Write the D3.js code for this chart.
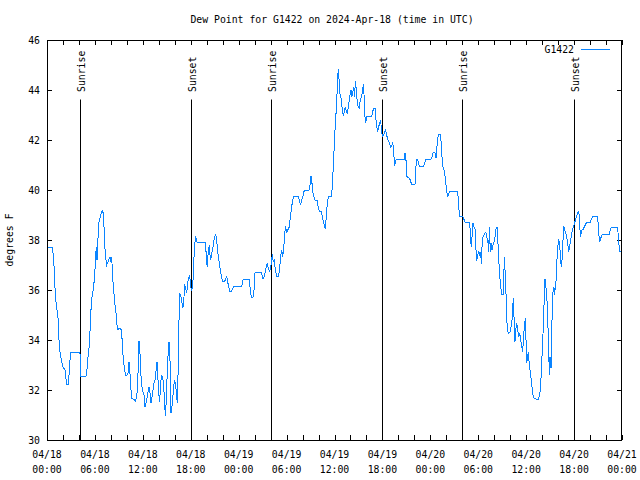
<!DOCTYPE html>
<html><head><meta charset="utf-8">
<script src="https://cdn.jsdelivr.net/npm/d3@7"></script>
<style>
body{margin:0;background:#fff}
svg text{font-family:"DejaVu Sans Mono","Liberation Mono",monospace;font-size:9.8px;fill:#000}
</style>
</head><body><svg id="c" width="640" height="480"></svg>
<script>
const chartTitle = "Dew Point for G1422 on 2024-Apr-18 (time in UTC)";
const seriesName = "G1422";
const yAxisLabel = "degrees F";
const yTickValues = [30, 32, 34, 36, 38, 40, 42, 44, 46];
const sunEventNames = ["Sunrise", "Sunset", "Sunrise", "Sunset", "Sunrise", "Sunset"];
const sunEventHours = [4.17, 18.07, 28.05, 41.95, 52.0, 66.03];
// [hours after 2024-04-18 00:00 UTC, dew point F]
const observations = [
[0.0,37.7],[0.67,37.7],[0.79,37.4],[0.92,36.77],[1.0,36.1],[1.13,35.5],[1.25,35.2],[1.38,34.87],[1.46,34.2],[1.59,33.6],
[1.71,33.37],[1.84,33.13],[2.0,32.93],[2.25,32.8],[2.38,32.43],[2.46,32.23],[2.67,32.23],[2.75,32.56],[2.88,33.2],[3.0,33.5],
[4.13,33.5],[4.22,32.53],[4.88,32.53],[5.0,32.8],[5.09,33.2],[5.22,33.5],[5.34,34.0],[5.47,35.0],[5.59,35.64],[5.72,35.87],
[5.84,36.13],[5.97,36.6],[6.09,37.33],[6.18,37.73],[6.26,37.2],[6.34,37.6],[6.43,38.53],[6.55,38.8],[6.68,38.93],[6.8,39.07],
[6.93,39.17],[7.05,39.07],[7.18,38.27],[7.3,37.4],[7.47,37.0],[7.6,37.1],[7.72,37.2],[7.89,37.33],[8.01,37.13],[8.1,37.33],
[8.22,36.53],[8.35,36.0],[8.47,35.53],[8.64,35.07],[8.76,34.6],[8.89,34.4],[9.02,34.47],[9.27,34.43],[9.39,34.07],[9.52,33.4],
[9.64,33.0],[9.77,32.73],[9.89,32.57],[10.06,32.6],[10.18,32.73],[10.27,33.13],[10.39,32.67],[10.52,32.0],[10.64,31.67],[10.81,31.64],
[10.94,31.6],[11.06,31.56],[11.19,31.67],[11.31,32.0],[11.44,33.0],[11.52,33.97],[11.64,33.5],[11.77,32.57],[11.9,32.1],[12.02,31.93],
[12.15,31.8],[12.27,31.33],[12.4,31.47],[12.52,31.67],[12.65,31.93],[12.77,32.13],[12.9,31.87],[13.02,31.47],[13.15,31.73],[13.27,32.0],
[13.4,32.27],[13.52,32.4],[13.66,32.8],[13.77,33.13],[13.86,32.67],[13.98,31.87],[14.11,31.53],[14.23,32.33],[14.36,32.57],[14.48,32.53],
[14.61,32.13],[14.69,31.73],[14.82,30.96],[14.94,31.6],[15.07,32.87],[15.19,33.6],[15.28,33.93],[15.4,33.2],[15.53,31.07],[15.61,31.2],
[15.73,31.6],[15.86,32.13],[15.98,32.4],[16.11,32.2],[16.24,31.73],[16.32,31.49],[16.4,32.53],[16.53,34.8],[16.61,35.87],[16.74,35.76],
[16.86,35.6],[16.99,35.27],[17.11,35.47],[17.24,36.23],[17.36,36.07],[17.49,35.87],[17.61,36.27],[17.74,36.47],[17.86,36.6],[17.99,36.13],
[18.11,36.0],[18.24,36.13],[18.32,36.6],[18.45,37.67],
[18.62,38.17],[18.74,37.93],[18.87,37.9],[19.87,37.9],[19.95,37.2],[20.08,36.93],[20.2,37.6],[20.33,37.8],[20.45,37.2],[20.58,37.33],
[20.7,37.6],[20.83,37.8],[20.95,38.07],[21.08,38.2],[21.2,38.13],[21.33,37.73],[21.45,37.33],[21.58,37.07],[21.7,36.8],[21.87,36.53],
[21.98,36.33],[22.2,36.33],[22.33,36.4],[22.5,36.56],[22.62,36.33],[22.75,36.13],[22.87,35.93],[23.04,35.93],[23.21,36.03],[23.37,36.13],
[24.38,36.13],[24.54,36.4],[24.71,36.44],[25.33,36.44],[25.46,36.0],[25.59,35.71],[25.79,35.71],[25.92,36.0],[26.04,36.67],[26.17,36.72],
[26.8,36.72],[26.92,36.6],[27.05,36.43],[27.21,36.56],[27.34,36.73],[27.46,36.93],[27.59,37.07],[27.71,36.87],[27.84,36.76],[27.96,36.8],
[28.09,37.07],[28.21,37.43],[28.34,37.13],[28.47,37.2],[28.59,36.8],[28.76,36.56],[29.01,36.56],[29.13,36.87],[29.26,37.33],[29.38,37.6],
[29.51,37.33],[29.63,37.6],[29.76,38.27],[29.88,38.56],[30.01,38.27],[30.13,38.43],[30.26,38.4],[30.38,38.67],[30.51,39.0],[30.64,39.33],
[30.76,39.6],[30.89,39.73],[31.47,39.73],[31.64,39.53],[31.76,39.43],[31.89,39.6],[32.1,39.8],[32.22,40.0],[32.81,40.0],[32.93,40.2],
[33.06,40.56],[33.18,40.27],[33.31,39.87],[33.56,39.6],[33.85,39.6],[33.97,39.27],[34.1,39.16],[34.35,39.13],[34.48,38.93],[34.6,38.73],
[34.73,38.6],[34.85,38.43],[34.98,39.0],[35.1,39.47],[35.23,39.73],[35.64,39.73],[35.77,40.47],[35.89,41.2],[36.02,42.16],
[36.19,43.07],[36.31,43.8],[36.4,44.53],[36.48,44.83],[36.56,44.47],[36.65,43.87],[36.77,43.8],[36.9,43.47],[37.02,43.07],[37.15,42.96],
[37.23,43.2],[37.36,43.33],[37.48,43.13],[37.61,43.07],[37.73,43.33],[37.86,43.6],[37.98,43.87],[38.07,44.0],[38.15,43.73],[38.27,43.87],
[38.4,44.13],[38.52,43.73],[38.61,44.37],[38.73,44.0],[38.86,43.47],[38.98,43.33],[39.11,43.27],[39.23,43.6],[39.36,43.73],[39.48,43.87],
[39.61,44.24],[39.69,43.87],[39.78,43.07],[39.9,42.67],[40.03,42.93],[40.65,42.93],[40.78,43.13],[40.9,43.27],[41.07,43.27],[41.2,42.8],
[41.32,42.47],[41.4,42.33],[41.53,42.53],[41.65,42.67],[41.78,42.8],[41.91,42.27],[42.03,42.16],[42.16,42.2],[42.28,42.33],[42.41,42.4],
[42.53,42.2],[42.66,42.03],[42.78,41.93],[42.91,41.87],[43.03,41.71],[43.16,41.73],[43.28,41.93],[43.41,41.53],[43.53,40.96],[43.66,41.2],
[43.91,41.23],[44.74,41.23],[44.83,41.47],[44.95,41.2],[45.08,40.53],[45.2,40.51],[45.41,40.47],[45.54,40.33],[45.66,40.24],[46.08,40.24],
[46.2,40.93],[46.33,41.23],[46.45,41.17],[46.62,40.96],[46.75,40.93],[47.16,40.93],[47.29,41.07],[47.41,41.23],[48.08,41.23],[48.21,41.33],
[48.33,41.47],[48.46,41.53],[48.58,41.47],[48.71,41.27],[48.83,41.73],[49.0,42.24],[49.29,42.24],[49.42,41.53],[49.54,40.93],[49.67,40.87],
[49.79,40.67],[49.92,40.33],[50.04,39.97],[50.17,39.71],[50.29,39.87],[50.42,39.93],[50.54,39.96],[51.38,39.96],
[51.51,39.67],[51.59,39.2],[51.67,38.96],[52.01,38.96],[52.13,38.89],[52.34,38.72],[52.88,38.72],[52.97,38.47],[53.05,38.0],[53.14,37.71],
[53.22,38.13],[53.34,38.69],[53.47,38.53],[53.59,38.47],[53.68,37.8],[53.8,37.17],[53.93,37.36],[54.05,37.57],[54.18,37.4],[54.3,37.53],
[54.39,37.04],[54.51,38.07],[54.64,38.16],[54.76,38.24],[54.89,38.31],[55.01,38.27],[55.14,38.0],[55.22,37.89],[55.31,37.53],[55.39,38.53],
[55.51,37.53],[55.6,37.87],[55.72,37.6],[55.85,37.8],[55.97,37.93],[56.1,38.13],[56.22,38.43],[56.35,38.53],[56.43,38.13],[56.56,37.27],
[56.68,36.6],[56.81,36.13],[56.93,35.84],[57.14,35.84],[57.27,37.33],[57.35,36.8],[57.48,35.8],[57.56,34.87],[57.68,34.33],[57.81,34.27],
[57.98,34.33],[58.1,34.53],[58.23,34.8],[58.31,35.27],[58.39,35.67],[58.48,34.93],[58.6,33.93],[58.69,34.4],[58.81,34.67],[58.94,34.4],
[59.06,34.13],[59.19,34.27],[59.31,34.0],[59.44,33.76],[59.56,33.53],[59.69,34.2],[59.81,34.67],[59.9,34.87],[59.98,34.0],[60.06,33.07],
[60.19,33.33],[60.27,33.53],[60.36,33.13],[60.48,32.8],[60.61,32.47],[60.73,32.13],[60.86,31.8],[60.98,31.67],[61.23,31.65],[61.4,31.6],
[61.52,31.63],[61.69,31.8],[61.82,32.2],[61.94,33.07],[62.07,33.93],[62.19,34.93],[62.28,35.87],[62.36,36.43],[62.44,36.2],[62.57,35.87],
[62.69,34.93],[62.82,33.67],[62.9,32.6],[62.98,33.33],[63.11,32.87],[63.19,34.13],[63.28,35.47],[63.4,36.13],[63.53,35.8],[63.61,36.07],
[63.69,36.0],[63.82,37.0],[63.94,37.67],[64.07,38.03],[64.2,37.87],[64.32,37.07],[64.45,36.93],[64.57,37.73],[64.7,38.57],[64.82,38.4],
[64.95,38.29],[65.07,38.11],[65.2,37.87],[65.32,37.53],[65.45,37.73],[65.57,38.0],[65.7,38.27],[65.82,38.43],[65.95,38.53],[66.07,38.69],
[66.2,38.83],[66.32,38.96],[66.45,39.07],[66.53,39.13],[66.66,39.0],[66.78,38.13],[66.91,38.27],[67.03,38.43],[67.16,38.43],[67.28,38.53],
[67.41,38.6],[67.53,38.69],[68.03,38.69],[68.16,38.83],[68.28,38.91],[68.41,38.96],[68.95,38.96],[69.08,38.27],[69.2,37.93],[69.33,38.07],
[69.45,38.16],[69.58,38.24],[70.41,38.24],[70.54,38.43],[70.71,38.51],[71.42,38.51],[71.54,38.2],[71.63,37.8],[71.71,37.53],[71.84,37.53]
];

const t0 = Date.UTC(2024, 3, 18);
const toDate = h => new Date(t0 + h * 3600e3);

const svg = d3.select("#c");
const L = 47, R = 622, T = 40, B = 440;
const x = d3.scaleUtc().domain([toDate(0), toDate(72)]).range([L, R]);
const y = d3.scaleLinear().domain([30, 46]).range([B, T]);
const lineColor = "#0a84ff";

// title
svg.append("text").attr("x", 332).attr("y", 23).attr("text-anchor", "middle").text(chartTitle);

// y axis label
svg.append("text").attr("transform", "translate(13,240) rotate(-90)").attr("text-anchor", "middle").text(yAxisLabel);

// axes (ticks inward, mirrored)
const tickHours = d3.utcHour.every(2);
const gx = svg.append("g").attr("transform", `translate(0,${B})`)
  .call(d3.axisBottom(x).ticks(tickHours).tickSize(-5).tickFormat(""));
const gxt = svg.append("g").attr("transform", `translate(0,${T})`)
  .call(d3.axisTop(x).ticks(tickHours).tickSize(-5).tickFormat(""));
const gy = svg.append("g").attr("transform", `translate(${L},0)`)
  .call(d3.axisLeft(y).tickValues(yTickValues).tickSize(-5).tickFormat(""));
const gyr = svg.append("g").attr("transform", `translate(${R},0)`)
  .call(d3.axisRight(y).tickValues(yTickValues).tickSize(-5).tickFormat(""));
[gx, gxt, gy, gyr].forEach(g => {
  g.select(".domain").remove();
  g.selectAll("line").attr("stroke", "#000").attr("shape-rendering", "crispEdges");
});

// y tick labels
svg.append("g").selectAll("text").data(yTickValues).join("text")
  .attr("x", 40).attr("y", d => y(d) + 3.5).attr("text-anchor", "end").text(d => d);

// x tick labels every 6 hours
const labelTicks = x.ticks(d3.utcHour.every(6));
const fmtDay = d3.utcFormat("%m/%d"), fmtTime = d3.utcFormat("%H:%M");
const xl = svg.append("g").selectAll("g").data(labelTicks).join("g")
  .attr("transform", d => `translate(${x(d)},0)`);
xl.append("text").attr("y", 458).attr("text-anchor", "middle").text(d => fmtDay(d));
xl.append("text").attr("y", 472.5).attr("text-anchor", "middle").text(d => fmtTime(d));

// sunrise / sunset markers
const sun = svg.append("g").selectAll("g").data(sunEventHours.map((h, i) => ({h, name: sunEventNames[i]}))).join("g")
  .attr("transform", d => `translate(${Math.round(x(toDate(d.h))) + 0.5},0)`);
sun.append("line").attr("y1", 99.5).attr("y2", B).attr("stroke", "#000").attr("stroke-width", 1);
sun.append("text").attr("transform", "translate(4.5,92) rotate(-90)").attr("text-anchor", "start").text(d => d.name);

// data line
const line = d3.line().x(d => x(toDate(d[0]))).y(d => y(d[1]));
svg.append("path").datum(observations).attr("d", line)
  .attr("fill", "none").attr("stroke", lineColor).attr("stroke-width", 1)
  .attr("shape-rendering", "crispEdges");

// frame
svg.append("rect").attr("x", L + 0.5).attr("y", T + 0.5).attr("width", R - L - 1).attr("height", B - T)
  .attr("fill", "none").attr("stroke", "#000").attr("shape-rendering", "crispEdges");

// legend
svg.append("text").attr("x", 574).attr("y", 53).attr("text-anchor", "end").text(seriesName);
svg.append("line").attr("x1", 581).attr("x2", 610).attr("y1", 49.5).attr("y2", 49.5)
  .attr("stroke", lineColor).attr("stroke-width", 1);
</script>
</body></html>
